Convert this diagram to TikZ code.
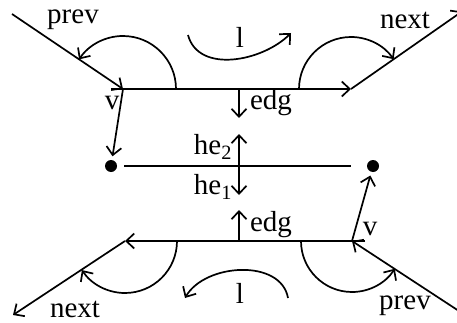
\documentclass[tikz,border=0pt]{standalone}
\usepackage{fontspec}
\setmainfont{Liberation Serif}
\usetikzlibrary{arrows.meta}

\tikzset{
    lbl/.style={inner sep=0pt, font=\fontsize{29}{30}\selectfont},
    pt/.style={shape=circle, fill=black, inner sep=0pt, minimum size=12pt},
}

\begin{document}
\begin{tikzpicture}[x=10pt, y=10pt, line width=1.7pt,
        >={Straight Barb[length=8pt,width=15pt]}]
    \useasboundingbox (0,0) rectangle (45.7,32.2);
    % upper half-edge and its neighbours
    \coordinate (tv) at (12.3,23.3);
    \coordinate (tt) at (35.1,23.3);
    \coordinate (tp) at (1.2,30.8);
    \coordinate (tn) at (46.2,31.05);
    \draw[->] (tp) -- (tv);
    \draw[->] ([xshift=-12pt]tv) -- (tt);
    \draw[->] (tt) -- (tn);
    \draw[->] ([xshift=53pt]tv) arc[start angle=0, end angle=146, radius=5.3];
    \draw[->] ([xshift=-52pt]tt) arc[start angle=180, end angle=35, radius=5.2];
    % lower half-edge and its neighbours
    \coordinate (bv) at (35.2,8.1);
    \coordinate (bt) at (12.5,8.1);
    \coordinate (bp) at (46.2,0.9);
    \coordinate (bn) at (1.3,0.7);
    \draw[->] (bp) -- (bv);
    \draw[->] ([xshift=13pt]bv) -- (bt);
    \draw[->] (bt) -- (bn);
    \draw[->] ([xshift=52pt]bt) arc[start angle=0, end angle=-146, radius=5.2];
    \draw[->] ([xshift=-51pt]bv) arc[start angle=180, end angle=327, radius=5.1];
    % the edge itself
    \node[pt] (a) at (11.1,15.6) {};
    \node[pt] (b) at (37.3,15.6) {};
    \coordinate (m) at (35.1,15.6);
    \draw ([xshift=13pt]a.center) -- (m);
    \draw[->, shorten >=3pt] (tv) -- (a);
    \draw[->, shorten >=3pt] (bv) -- (b);
    % half-edge pointers
    \coordinate (hc) at (23.9,15.6);
    \coordinate (h2) at (23.9,18.8);
    \coordinate (h1) at (23.9,12.7);
    \coordinate (e1) at (23.9,20.4);
    \coordinate (e2) at (23.9,11.2);
    \draw[->] (hc) -- (h2);
    \draw[->] (hc) -- (h1);
    \draw[->] (tv -| hc) -- (e1);
    \draw[->] (bv -| hc) -- (e2);
    % face loops
    \coordinate (la) at (18.8,28.7);
    \coordinate (lb) at (29.1,28.9);
    \coordinate (lc) at (28.8,2.4);
    \coordinate (ld) at (18.5,2.4);
    \draw[->] (la) to[out=-75, in=-135] (lb);
    \draw[->] (lc) to[out=100, in=60] (ld);
    % labels
    \node[lbl] (prev1) at (7.3,30.2) {prev};
    \node[lbl] (next1) at (40.5,30.2) {next};
    \node[lbl] (v1) at (11.2,21.9) {v};
    \node[lbl] (edg1) at (27.1,21.9) {edg};
    \node[lbl] (l1) at (24.0,28.5) {l};
    \node[lbl] (he2) at (21.3,17.5) {he\textsubscript{2}};
    \node[lbl] (he1) at (21.3,13.5) {he\textsubscript{1}};
    \node[lbl] (edg2) at (27.1,9.7) {edg};
    \node[lbl] (v2) at (37.0,9.3) {v};
    \node[lbl] (l2) at (24.0,2.9) {l};
    \node[lbl] (next2) at (7.5,1.3) {next};
    \node[lbl] (prev2) at (40.5,1.6) {prev};
\end{tikzpicture}
\end{document}
